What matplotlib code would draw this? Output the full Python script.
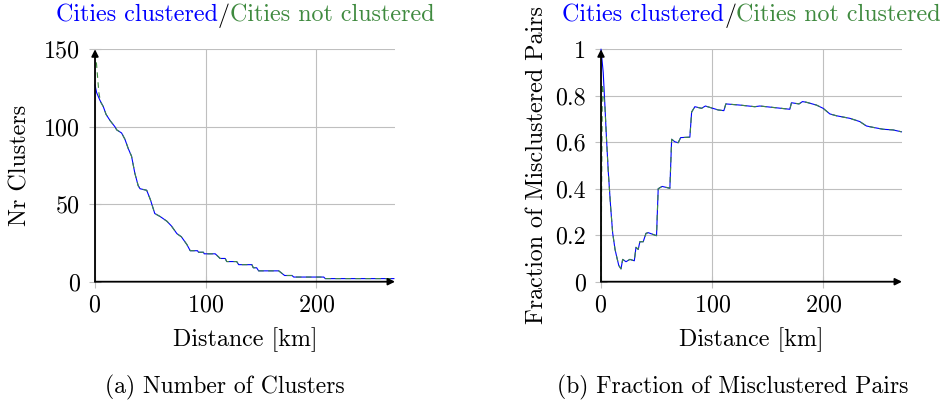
import matplotlib
matplotlib.use("Agg")
import matplotlib.pyplot as plt

plt.rcParams['font.family'] = ['cmr10', 'DejaVu Serif']
plt.rcParams['mathtext.fontset'] = 'cm'
plt.rcParams['axes.formatter.use_mathtext'] = True

BLUE = '#0000ff'
GREEN = '#3f8a3f'
GRID = '#bfbfbf'
FS = 17.3

# (a) number of clusters vs distance
clu_dist = [0, 1.5, 4.5, 7.5, 10, 13.6, 18, 19.6, 24, 27, 30, 33, 36, 39, 40.7, 46.7,
            50, 54, 59, 65, 69, 74, 78, 83, 86, 92.6, 93.5, 98, 98.6, 108.6, 111.6, 113,
            117.6, 119, 128, 129.8, 141.7, 143, 146, 147.8, 166, 171.3, 178, 179.5,
            206.6, 208, 270]
clu_count = [127, 122, 117, 113, 108, 104, 100, 98, 96, 92, 86, 81, 70, 62, 60, 59,
             53, 44, 42, 39, 36, 31, 29, 24, 20, 20, 19, 19, 18, 18, 16, 15,
             15, 13, 13, 11, 11, 9, 9, 7, 7, 4, 4, 3,
             3, 2, 2]
# not clustered: only the start differs
clu_nc_dist = [0.5, 3.5, 5] + clu_dist[3:]
clu_nc_count = [148, 122, 116] + clu_count[3:]

# (b) fraction of misclustered pairs vs distance
mis_dist = [0, 2, 3.6, 5, 6.6, 8.7, 10.5, 12.6, 14, 16, 18, 19.5, 22.5, 26, 30, 31.5,
            33.5, 35, 38, 40.5, 42.5, 50, 51.5, 55, 62, 63.6, 66.5, 69.5, 71.7, 80,
            81.6, 84.5, 90.5, 94, 98, 105.5, 110.6, 112.4, 125, 138.5, 143, 170, 171.5,
            178.3, 181.4, 185, 194, 200, 206, 212, 224, 233, 239, 245, 254, 263, 270.5]
mis_frac = [1.0, 0.90, 0.75, 0.61, 0.47, 0.32, 0.21, 0.14, 0.11, 0.07, 0.055, 0.096,
            0.086, 0.096, 0.09, 0.148, 0.139, 0.172, 0.172, 0.208, 0.211, 0.198, 0.40,
            0.41, 0.402, 0.613, 0.602, 0.598, 0.62, 0.622, 0.73, 0.753, 0.746, 0.756,
            0.75, 0.739, 0.736, 0.765, 0.76, 0.753, 0.756, 0.742, 0.77, 0.765, 0.775,
            0.772, 0.76, 0.746, 0.722, 0.714, 0.703, 0.689, 0.67, 0.664, 0.656, 0.653,
            0.645]
mis_nc_dist = [0, 1.2] + mis_dist[2:]
mis_nc_frac = [0.0, 0.85] + mis_frac[2:]

W, H = 944, 405
fig = plt.figure(figsize=(W / 100, H / 100), dpi=100)


def setup_axes(rect, ymax, yticks, yticklabels, ylabel, ylabel_x):
    ax = fig.add_axes(rect)
    ax.set_xlim(0, 271)
    ax.set_ylim(0, ymax)
    ax.set_xticks([0, 100, 200])
    ax.set_yticks(yticks)
    ax.set_yticklabels(yticklabels)
    for s in ax.spines.values():
        s.set_visible(False)
    ax.grid(True, color=GRID, lw=0.8)
    ax.set_axisbelow(True)
    ax.tick_params(direction='inout', length=8, width=0.8, color=GRID,
                   labelsize=FS, pad=5)
    ax.tick_params(axis='y', pad=7)
    ax.set_ylabel(ylabel, fontsize=FS)
    ax.yaxis.set_label_coords(ylabel_x, 0.5)
    ax.set_xlabel('Distance [km]', fontsize=FS)
    ax.xaxis.set_label_coords(0.5, -0.195)
    # axis lines with arrow heads
    arrow = dict(arrowstyle='-|>', color='k', lw=1.3, shrinkA=0, shrinkB=0,
                 mutation_scale=10)
    ax.annotate('', xy=(1, 0), xytext=(0, 0), xycoords='axes fraction',
                arrowprops=arrow, annotation_clip=False)
    ax.annotate('', xy=(0, 1), xytext=(0, 0), xycoords='axes fraction',
                arrowprops=arrow, annotation_clip=False)
    return ax


ax1 = setup_axes([95 / W, 123.3 / H, 300 / W, 232.4 / H], 150, [0, 50, 100, 150],
                 ['0', '50', '100', '150'], 'Nr Clusters', -0.213)
ax1.plot(clu_dist, clu_count, color=BLUE, lw=0.8, clip_on=False)
ax1.plot(clu_nc_dist, clu_nc_count, color=GREEN, lw=0.8, dashes=(5, 4), clip_on=False)

ax2 = setup_axes([601 / W, 123.3 / H, 301 / W, 232.4 / H], 1, [0, 0.2, 0.4, 0.6, 0.8, 1],
                 ['0', '0.2', '0.4', '0.6', '0.8', '1'],
                 'Fraction of Misclustered Pairs', -0.176)
ax2.plot(mis_dist, mis_frac, color=BLUE, lw=0.8, clip_on=False)
ax2.plot(mis_nc_dist, mis_nc_frac, color=GREEN, lw=0.8, dashes=(5, 4), clip_on=False)


def colored_title(xc, y, parts):
    r = fig.canvas.get_renderer()
    texts = [fig.text(0, y, s, color=c, fontsize=FS, va='baseline') for s, c in parts]
    widths = [t.get_window_extent(r).width for t in texts]
    x = xc * W - sum(widths) / 2
    for t, w in zip(texts, widths):
        t.set_x(x / W)
        x += w


parts = [('Cities clustered', BLUE), ('/', 'k'), ('Cities not clustered', GREEN)]
colored_title(245 / W, 1 - 22 / H, parts)
colored_title(751.5 / W, 1 - 22 / H, parts)

fig.text(225 / W, 1 - 387 / H, '(a) Number of Clusters', fontsize=17, ha='center', va='center')
fig.text(733 / W, 1 - 387 / H, '(b) Fraction of Misclustered Pairs', fontsize=17,
         ha='center', va='center')

fig.savefig('out.png', dpi=100)
